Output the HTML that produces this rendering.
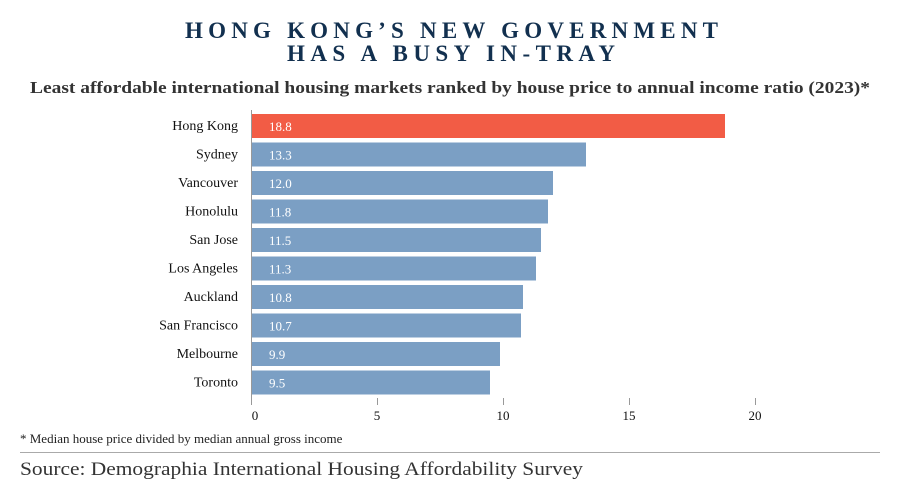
<!DOCTYPE html>
<html><head><meta charset="utf-8"><style>
html,body{margin:0;padding:0;background:#fff;}
svg{display:block;}
</style></head><body>
<svg width="900" height="497" viewBox="0 0 900 497" xmlns="http://www.w3.org/2000/svg" font-family="Liberation Serif, serif">
<g fill="#12304f" font-weight="bold" font-size="23">
<text x="185" y="38" textLength="533" lengthAdjust="spacing">HONG KONG’S NEW GOVERNMENT</text>
<text x="287" y="61" textLength="328" lengthAdjust="spacing">HAS A BUSY IN-TRAY</text>
</g>
<text x="30" y="93" font-size="17" font-weight="bold" fill="#333" textLength="840" lengthAdjust="spacingAndGlyphs">Least affordable international housing markets ranked by house price to annual income ratio (2023)*</text>
<g font-size="14" fill="#111" text-anchor="end">
<text x="238" y="130">Hong Kong</text>
<text x="238" y="158.5">Sydney</text>
<text x="238" y="187">Vancouver</text>
<text x="238" y="215.5">Honolulu</text>
<text x="238" y="244">San Jose</text>
<text x="238" y="272.5">Los Angeles</text>
<text x="238" y="301">Auckland</text>
<text x="238" y="329.5">San Francisco</text>
<text x="238" y="358">Melbourne</text>
<text x="238" y="386.5">Toronto</text>
</g>
<g>
<rect x="252" y="114" width="473" height="24" fill="#f25c45"/>
<rect x="252" y="142.5" width="334" height="24" fill="#7b9fc4"/>
<rect x="252" y="171" width="301" height="24" fill="#7b9fc4"/>
<rect x="252" y="199.5" width="296" height="24" fill="#7b9fc4"/>
<rect x="252" y="228" width="289" height="24" fill="#7b9fc4"/>
<rect x="252" y="256.5" width="284" height="24" fill="#7b9fc4"/>
<rect x="252" y="285" width="271" height="24" fill="#7b9fc4"/>
<rect x="252" y="313.5" width="269" height="24" fill="#7b9fc4"/>
<rect x="252" y="342" width="248" height="24" fill="#7b9fc4"/>
<rect x="252" y="370.5" width="238" height="24" fill="#7b9fc4"/>
</g>
<g font-size="13" fill="#fff">
<text x="269" y="131">18.8</text>
<text x="269" y="159.5">13.3</text>
<text x="269" y="188">12.0</text>
<text x="269" y="216.5">11.8</text>
<text x="269" y="245">11.5</text>
<text x="269" y="273.5">11.3</text>
<text x="269" y="302">10.8</text>
<text x="269" y="330.5">10.7</text>
<text x="269" y="359">9.9</text>
<text x="269" y="387.5">9.5</text>
</g>
<g stroke="#999" stroke-width="1">
<line x1="251.5" y1="110" x2="251.5" y2="405"/>
<line x1="377.5" y1="398" x2="377.5" y2="405"/>
<line x1="503.5" y1="398" x2="503.5" y2="405"/>
<line x1="629.5" y1="398" x2="629.5" y2="405"/>
<line x1="755.5" y1="398" x2="755.5" y2="405"/>
<line x1="20" y1="452.5" x2="880" y2="452.5" stroke="#aaa"/>
</g>
<g font-size="13" fill="#111" text-anchor="middle">
<text x="255" y="420">0</text>
<text x="377" y="420">5</text>
<text x="503" y="420">10</text>
<text x="629" y="420">15</text>
<text x="755" y="420">20</text>
</g>
<text x="20" y="443" font-size="13" fill="#222">* Median house price divided by median annual gross income</text>
<text x="20" y="475" font-size="19" fill="#333" textLength="563" lengthAdjust="spacingAndGlyphs">Source: Demographia International Housing Affordability Survey</text>
</svg>
</body></html>
